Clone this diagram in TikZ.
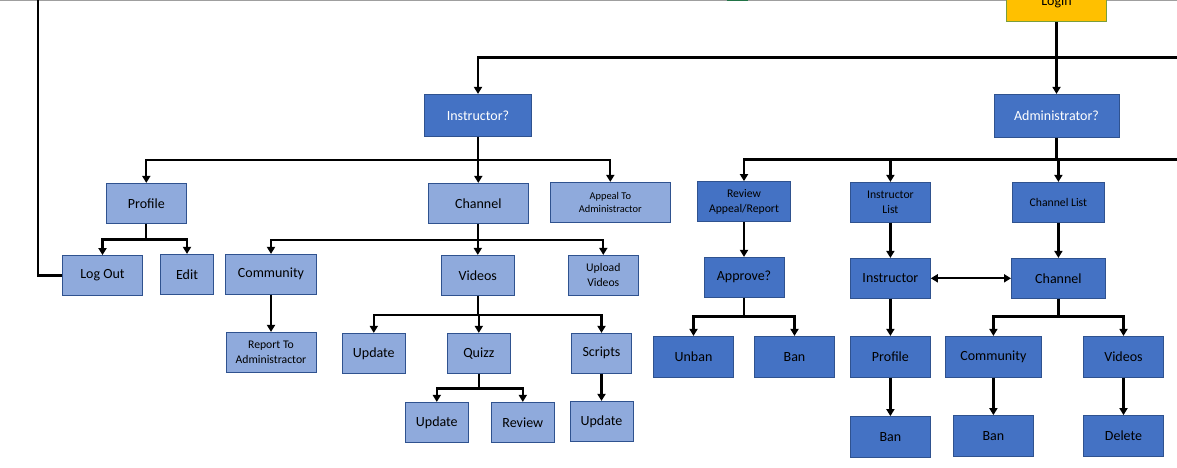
\documentclass[tikz,border=0pt]{standalone}
\usepackage{fontspec}
\setmainfont{Carlito}
\usetikzlibrary{arrows.meta,positioning}
\definecolor{dkblue}{HTML}{4472C4}
\definecolor{ltblue}{HTML}{8FAADC}
\definecolor{edgeblue}{HTML}{2F528F}
\definecolor{gold}{HTML}{FFC000}
\definecolor{leaf}{HTML}{7A9E3C}
\definecolor{xlgreen}{HTML}{217346}
\begin{document}
\begin{tikzpicture}[x=1pt,y=-1pt]
        \tikzstyle{every node}+=[inner sep=0pt, align=center, minimum height=40pt, font=\fontsize{14}{17}\selectfont]
        \tikzstyle{lbox}=[draw=edgeblue, line width=0.8pt, fill=ltblue]
        \tikzstyle{dbox}=[draw=edgeblue, line width=0.8pt, fill=dkblue]
        \tikzstyle{small}=[font=\fontsize{11.7}{15}\selectfont]
        \tikzstyle{conn}=[black, line width=2.2pt]
        \tikzstyle{arr}=[conn, -{Triangle[width=8pt,length=7pt]}]
        \useasboundingbox (0,0) rectangle (1177,467);
        \fill [white] (0,0) rectangle (1177,467);
        \draw [gray!75, line width=1.2pt] (0,0.6) -- (1177,0.6);
        \draw [xlgreen, line width=1.4pt] (726.7,0.7) -- (747.7,0.7);
        % top
        \node [draw=leaf, line width=0.8pt, fill=gold, minimum width=100pt] (login) at (1056.5,1.5) {Login};
        \node [dbox, text=white, minimum width=107pt, minimum height=42pt] (instq) at (478,115.3) {Instructor?};
        \node [dbox, text=white, minimum width=125pt, minimum height=43pt] (adminq) at (1056.5,115.8) {Administrator?};
        % instructor side
        \node [lbox, minimum width=80pt] (profile) at (146.3,203.3) {Profile};
        \node [lbox, minimum width=100pt] (channel) at (478.3,203.3) {Channel};
        \node [lbox, minimum width=120pt, font=\fontsize{10.4}{13.3}\selectfont] (appeal) at (610.3,202.3) {Appeal To\\Administractor};
        \node [lbox, minimum width=80pt] (logout) at (102.5,275.5) {Log Out};
        \node [lbox, minimum width=53pt] (edit) at (187,274.3) {Edit};
        \node [lbox, minimum width=91pt] (community) at (271,274.3) {Community};
        \node [lbox, minimum width=73pt] (videos) at (477.8,275.3) {Videos};
        \node [lbox, small, minimum width=70pt] (upload) at (603.3,275.3) {Upload\\Videos};
        \node [lbox, small, minimum width=90pt] (report) at (271,352.3) {Report To\\Administractor};
        \node [lbox, minimum width=63pt] (vupd) at (373.8,353.3) {Update};
        \node [lbox, minimum width=63pt] (quizz) at (478.8,353.3) {Quizz};
        \node [lbox, minimum width=60pt] (scripts) at (601.5,353.3) {Scripts};
        \node [lbox, minimum width=63pt] (qupd) at (436.8,422.3) {Update};
        \node [lbox, minimum width=63pt] (qrev) at (522.8,422.3) {Review};
        \node [lbox, minimum width=63pt] (supd) at (601.5,421.3) {Update};
        % administrator side
        \node [dbox, small, minimum width=93pt] (rvw) at (744,201.5) {Review\\Appeal/Report};
        \node [dbox, minimum width=80pt] (approve) at (744,277.3) {Approve?};
        \node [dbox, minimum width=80pt, minimum height=41pt] (unban) at (693.5,356.8) {Unban};
        \node [dbox, minimum width=80pt, minimum height=41pt] (ban) at (794.5,356.8) {Ban};
        \node [dbox, small, minimum width=80pt] (ilist) at (890.4,202.3) {Instructor\\List};
        \node [dbox, small, minimum width=92pt] (clist) at (1058.4,202.3) {Channel List};
        \node [dbox, minimum width=80pt] (ainst) at (890.4,278.3) {Instructor};
        \node [dbox, minimum width=94pt] (achan) at (1058.4,278.3) {Channel};
        \node [dbox, minimum width=80pt, minimum height=41pt] (aprof) at (890.4,356.8) {Profile};
        \node [dbox, minimum width=80pt, minimum height=41pt] (pban) at (890.4,437) {Ban};
        \node [dbox, minimum width=96pt, minimum height=41pt] (acomm) at (993.4,356.8) {Community};
        \node [dbox, minimum width=80pt, minimum height=41pt] (avid) at (1123.5,356.8) {Videos};
        \node [dbox, minimum width=80pt, minimum height=41pt] (cban) at (993.4,436) {Ban};
        \node [dbox, minimum width=80pt, minimum height=41pt] (vdel) at (1123.5,436) {Delete};
        % connectors
        \coordinate (tb) at (1180,57.5);
        \coordinate (ab) at (1180,159.5);
        \draw [arr] (tb) -| (instq.north);
        \draw [arr] (login) -- (adminq);
        \draw [conn] (adminq.south) -- (adminq.south |- ab);
        \draw [arr] (ab) -| (rvw.north);
        \draw [arr] (ilist.north |- ab) -- (ilist.north);
        \draw [arr] (clist.north |- ab) -- (clist.north);
        \draw [conn] (instq.south) -- ++(0,23.2) coordinate (ib);
        \foreach \n in {profile,channel,appeal} \draw [arr] (ib) -| (\n.north);
        \draw [conn] (profile.south) -- ++(0,15.7) coordinate (pb);
        \foreach \n in {logout,edit} \draw [arr] (pb) -| (\n.north);
        \draw [conn] (logout.west) -| (38.3,-5);
        \draw [conn] (channel.south) -- ++(0,16) coordinate (cb);
        \foreach \n in {community,videos,upload} \draw [arr] (cb) -| (\n.north);
        \draw [arr] (community) -- (report);
        \draw [conn] (videos.south) -- ++(0,19) coordinate (vb);
        \foreach \n in {vupd,quizz,scripts} \draw [arr] (vb) -| (\n.north);
        \draw [conn] (quizz.south) -- ++(0,14.7) coordinate (qb);
        \foreach \n in {qupd,qrev} \draw [arr] (qb) -| (\n.north);
        \draw [arr] (scripts) -- (supd);
        \draw [arr] (rvw) -- (approve);
        \draw [conn] (approve.south) -- ++(0,18.8) coordinate (apb);
        \foreach \n in {unban,ban} \draw [arr] (apb) -| (\n.north);
        \draw [arr] (ilist) -- (ainst);
        \draw [arr] (clist) -- (achan);
        \draw [conn, {Triangle[width=8pt,length=7pt]}-{Triangle[width=8pt,length=7pt]}] (ainst) -- (achan);
        \draw [arr] (ainst) -- (aprof);
        \draw [arr] (aprof) -- (pban);
        \draw [conn] (achan.south) -- ++(0,17.8) coordinate (chb);
        \foreach \n in {acomm,avid} \draw [arr] (chb) -| (\n.north);
        \draw [arr] (acomm) -- (cban);
        \draw [arr] (avid) -- (vdel);
\end{tikzpicture}
\end{document}
